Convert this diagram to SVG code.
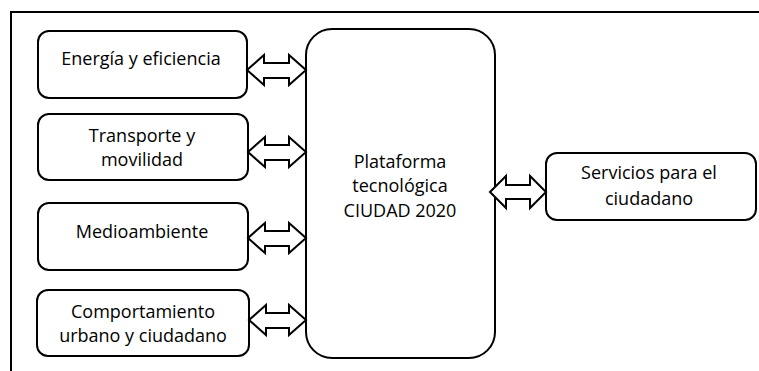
<svg xmlns="http://www.w3.org/2000/svg" width="759" height="371" viewBox="0 0 759 371">
<style>
.box{fill:#fff;stroke:#000;stroke-width:2}
.arr{fill:#fff;stroke:#000;stroke-width:2;stroke-linejoin:miter}
.frame{fill:none;stroke:#000;stroke-width:2}
text{font-family:"Open Sans","Liberation Sans",sans-serif;font-size:18px;fill:#000;text-anchor:middle}
</style>
<path class="frame" d="M11,371 V12 H759"/>
<g id="energia"><rect class="box" x="38" y="31" width="209" height="67" rx="11"/><text x="141" y="65">Energía y eficiencia</text></g>
<g id="transporte"><rect class="box" x="38" y="114" width="210" height="66" rx="11"/><text x="142" y="142">Transporte y</text><text x="142" y="166">movilidad</text></g>
<g id="medioambiente"><rect class="box" x="38" y="203" width="210" height="67" rx="11"/><text x="142" y="238">Medioambiente</text></g>
<g id="comportamiento"><rect class="box" x="37" y="290" width="212" height="66" rx="11"/><text x="143" y="318">Comportamiento</text><text x="143" y="342">urbano y ciudadano</text></g>
<g id="plataforma"><rect class="box" x="306" y="29" width="189" height="329" rx="26"/><text x="400" y="168">Plataforma</text><text x="400" y="192">tecnológica</text><text x="400" y="217">CIUDAD 2020</text></g>
<g id="servicios"><rect class="box" x="546" y="153" width="210" height="67" rx="11"/><text x="649" y="179">Servicios para el</text><text x="649" y="205">ciudadano</text></g>
<g id="connectors">
<polygon class="arr" points="247,70 264,55 264,63 289,63 289,55 306,70 289,85 289,78 264,78 264,85"/>
<polygon class="arr" points="248,152 265,137 265,145 289,145 289,137 306,152 289,167 289,160 265,160 265,167"/>
<polygon class="arr" points="248,238 265,223 265,231 289,231 289,223 306,238 289,253 289,246 265,246 265,253"/>
<polygon class="arr" points="249,320 266,305 266,313 289,313 289,305 306,320 289,335 289,328 266,328 266,335"/>
<polygon class="arr" points="490,192 506,176 506,185 530,185 530,176 546,192 530,208 530,199 506,199 506,208"/>
</g>
</svg>
